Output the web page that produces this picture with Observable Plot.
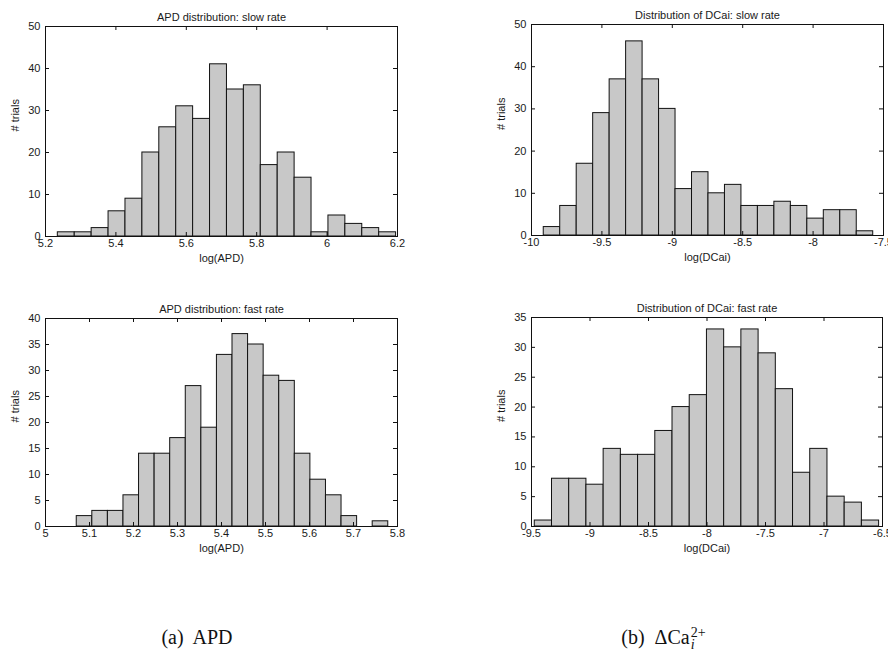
<!DOCTYPE html>
<html>
<head>
<meta charset="utf-8">
<script src="https://cdn.jsdelivr.net/npm/d3@7"></script>
<script src="https://cdn.jsdelivr.net/npm/@observablehq/plot@0.6"></script>
<style>
html, body { margin: 0; padding: 0; background: #fff; }
#root { position: relative; width: 888px; height: 655px; overflow: hidden; background: #fff; }
.panel { position: absolute; }
.cap { position: absolute; font-family: "Liberation Serif", "DejaVu Serif", serif; font-size: 20px; color: #111; white-space: nowrap; transform: translateX(-50%); line-height: 1; }
.ss { position: relative; display: inline-block; width: 17px; height: 0; vertical-align: baseline; font-size: 14px; line-height: 11px; }
.ss .sup { position: absolute; left: 1px; bottom: 6px; }
.ss .sub { position: absolute; left: 1px; top: -5px; }
</style>
</head>
<body>
<div id="root">
  <div class="cap" style="left:197px; top:627px;">(a)&nbsp; APD</div>
  <div class="cap" style="left:664px; top:627px;">(b)&nbsp; ΔCa<span class="ss"><span class="sup">2+</span><span class="sub"><i>i</i></span></span></div>
</div>
<script>
// ---------- data ----------
// counts per bin, and the outer edges of the 20 equal-width histogram bins
const apdSlowCounts = [1, 1, 2, 6, 9, 20, 26, 31, 28, 41, 35, 36, 17, 20, 14, 1, 5, 3, 2, 1];
const apdSlowEdges = [5.235, 6.196];
const dcaiSlowCounts = [2, 7, 17, 29, 37, 46, 37, 30, 11, 15, 10, 12, 7, 7, 8, 7, 4, 6, 6, 1];
const dcaiSlowEdges = [-9.913, -7.573];
const apdFastCounts = [2, 3, 3, 6, 14, 14, 17, 27, 19, 33, 37, 35, 29, 28, 14, 9, 6, 2, 0, 1];
const apdFastEdges = [5.071, 5.779];
const dcaiFastCounts = [1, 8, 8, 7, 13, 12, 12, 16, 20, 22, 33, 30, 33, 29, 23, 9, 13, 5, 4, 1];
const dcaiFastEdges = [-9.472, -6.529];

// axis ticks
const apdSlowXTicks = [5.2, 5.4, 5.6, 5.8, 6, 6.2];
const dcaiSlowXTicks = [-10, -9.5, -9, -8.5, -8, -7.5];
const apdFastXTicks = [5, 5.1, 5.2, 5.3, 5.4, 5.5, 5.6, 5.7, 5.8];
const dcaiFastXTicks = [-9.5, -9, -8.5, -8, -7.5, -7, -6.5];
const slowYTicks = [0, 10, 20, 30, 40, 50];
const apdFastYTicks = [0, 5, 10, 15, 20, 25, 30, 35, 40];
const dcaiFastYTicks = [0, 5, 10, 15, 20, 25, 30, 35];

// titles and labels
const titles = ["APD distribution: slow rate", "Distribution of DCai: slow rate", "APD distribution: fast rate", "Distribution of DCai: fast rate"];
const xLabels = ["log(APD)", "log(DCai)", "log(APD)", "log(DCai)"];
const yLabel = "# trials";

// ---------- drawing ----------
function bins(counts, edges) {
  const n = counts.length, w = (edges[1] - edges[0]) / n;
  return counts.map((c, i) => ({x1: edges[0] + i * w, x2: edges[0] + (i + 1) * w, count: c}));
}
const fmt = d => String(d);

function panel(cfg, L) {
  const plotW = L.width - L.ml - L.mr, plotH = L.height - L.mt - L.mb, t = 4;
  const data = bins(cfg.counts, cfg.edges).filter(d => d.count > 0);
  const chart = Plot.plot({
    width: L.width, height: L.height,
    marginLeft: L.ml, marginRight: L.mr, marginTop: L.mt, marginBottom: L.mb,
    style: {fontFamily: "'Liberation Sans', Arial, sans-serif", fontSize: "11px", color: "#1a1a1a", background: "#fff", overflow: "visible"},
    x: {domain: cfg.xDomain},
    y: {domain: cfg.yDomain},
    marks: [
      Plot.rectY(data, {x1: "x1", x2: "x2", y: "count", fill: "#c8c8c8", stroke: "#111", strokeWidth: 1}),
      Plot.frame({stroke: "#111", strokeWidth: 1}),
      // inward ticks on all four sides (Matlab style)
      Plot.ruleX(cfg.xTicks, {x: d => d, insetTop: plotH - t, stroke: "#111"}),
      Plot.ruleX(cfg.xTicks, {x: d => d, insetBottom: plotH - t, stroke: "#111"}),
      Plot.ruleY(cfg.yTicks, {y: d => d, insetRight: plotW - t, stroke: "#111"}),
      Plot.ruleY(cfg.yTicks, {y: d => d, insetLeft: plotW - t, stroke: "#111"}),
      Plot.axisX({ticks: cfg.xTicks, tickFormat: fmt, tickSize: 0, tickPadding: 3, label: null}),
      Plot.axisY({ticks: cfg.yTicks, tickFormat: fmt, tickSize: 0, tickPadding: 5, label: null}),
      Plot.text([cfg.title], {text: d => d, frameAnchor: "top", dy: -13}),
      Plot.text([cfg.xLabel], {text: d => d, frameAnchor: "bottom", dy: 25}),
      Plot.text([yLabel], {text: d => d, frameAnchor: "left", rotate: -90, dx: -30})
    ]
  });
  const div = document.createElement("div");
  div.className = "panel";
  div.style.left = L.left + "px";
  div.style.top = L.top + "px";
  div.style.width = L.width + "px";
  div.appendChild(chart);
  document.getElementById("root").appendChild(div);
}

panel({counts: apdSlowCounts, edges: apdSlowEdges, xDomain: [5.2, 6.2], yDomain: [0, 50], xTicks: apdSlowXTicks, yTicks: slowYTicks, title: titles[0], xLabel: xLabels[0]},
      {left: 0, top: 0, width: 444, height: 290, ml: 45, mr: 47, mt: 26, mb: 54});
panel({counts: dcaiSlowCounts, edges: dcaiSlowEdges, xDomain: [-10, -7.5], yDomain: [0, 50], xTicks: dcaiSlowXTicks, yTicks: slowYTicks, title: titles[1], xLabel: xLabels[1]},
      {left: 444, top: 0, width: 444, height: 290, ml: 87, mr: 5, mt: 24, mb: 55});
panel({counts: apdFastCounts, edges: apdFastEdges, xDomain: [5, 5.8], yDomain: [0, 40], xTicks: apdFastXTicks, yTicks: apdFastYTicks, title: titles[2], xLabel: xLabels[2]},
      {left: 0, top: 290, width: 444, height: 290, ml: 45, mr: 47, mt: 28, mb: 54});
panel({counts: dcaiFastCounts, edges: dcaiFastEdges, xDomain: [-9.5, -6.5], yDomain: [0, 35], xTicks: dcaiFastXTicks, yTicks: dcaiFastYTicks, title: titles[3], xLabel: xLabels[3]},
      {left: 444, top: 290, width: 444, height: 290, ml: 87, mr: 6, mt: 27, mb: 54});
</script>
</body>
</html>
